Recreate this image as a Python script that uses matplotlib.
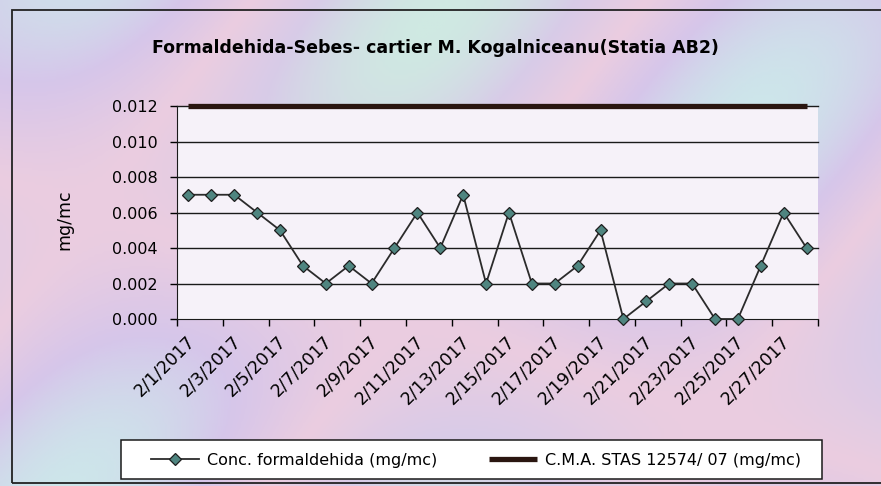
import numpy as np
import matplotlib
matplotlib.use("Agg")
import matplotlib.pyplot as plt
from matplotlib.colors import LinearSegmentedColormap
from matplotlib.patches import Rectangle

plt.rcParams["font.family"] = ["DejaVu Sans"]

# data
dates = ["2/%d/2017" % d for d in range(1, 29)]
conc = [0.007, 0.007, 0.007, 0.006, 0.005, 0.003, 0.002, 0.003, 0.002, 0.004,
        0.006, 0.004, 0.007, 0.002, 0.006, 0.002, 0.002, 0.003, 0.005, 0.000,
        0.001, 0.002, 0.002, 0.000, 0.000, 0.003, 0.006, 0.004]
cma = [0.012] * 28
yticks = [0.000, 0.002, 0.004, 0.006, 0.008, 0.010, 0.012]

title = "Formaldehida-Sebes- cartier M. Kogalniceanu(Statia AB2)"
label_conc = "Conc. formaldehida (mg/mc)"
label_cma = "C.M.A. STAS 12574/ 07 (mg/mc)"

W, H = 881, 486
fig = plt.figure(figsize=(W / 100, H / 100), dpi=100)

# pastel scanned background
bg = fig.add_axes([0, 0, 1, 1], zorder=-10)
bg.set_axis_off()
xx, yy = np.meshgrid(np.linspace(0, 1, 300), np.linspace(0, 1, 170))
t = 0.5 + 0.5 * np.sin(7.0 * xx - 3.0 * yy + 1.0) * np.cos(2.5 * yy + 1.5 * xx)
pastel = LinearSegmentedColormap.from_list(
    "pastel", ["#cfe9e2", "#d8cbe8", "#ebcde0", "#d6c6ea", "#cde6ea"])
bg.imshow(t, cmap=pastel, aspect="auto", extent=[0, 1, 0, 1], origin="lower")
bg.set_xlim(0, 1)
bg.set_ylim(0, 1)
# chart frame and legend box
bg.add_patch(Rectangle((12 / W, 1 - 483 / H), 880 / W, 473 / H,
                       fill=False, ec="#222222", lw=1.3))
bg.add_patch(Rectangle((121 / W, 1 - 479 / H), 701 / W, 39 / H,
                       fc="white", ec="#1a1a1a", lw=1.1))

ax = fig.add_axes([177 / W, 1 - 319 / H, 641 / W, 213 / H])
ax.set_facecolor("#f6f2f9")
x = np.arange(len(dates))

for y in yticks[1:]:
    ax.axhline(y, color="#1a1a1a", lw=1.0, zorder=1, clip_on=False)

ax.plot(x, cma, color="#2a1610", lw=3.8, solid_capstyle="butt", zorder=3,
        label=label_cma, clip_on=False)
ax.plot(x, conc, color="#2b2b2b", lw=1.3, marker="D", ms=6.2,
        mfc="#4f8580", mec="#1e1e1e", mew=0.9, zorder=4, label=label_conc,
        clip_on=False)

ax.set_xlim(-0.5, len(dates) - 0.5)
ax.set_ylim(0, 0.012)
ax.set_yticks(yticks)
ax.set_yticklabels(["%.3f" % v for v in yticks], fontsize=11.5)
ax.tick_params(axis="y", direction="out", length=5, width=1, pad=9)

ax.set_xticks(np.arange(-0.5, len(dates), 2.0))
ax.set_xticklabels([])
ax.tick_params(axis="x", direction="out", length=5, width=1)
for i in range(0, len(dates), 2):
    ax.text(i + 0.15, -0.0011, dates[i], rotation=45, rotation_mode="anchor",
            ha="right", va="center", fontsize=12.5, transform=ax.transData)

for side in ["top", "right"]:
    ax.spines[side].set_visible(False)
ax.spines["left"].set_color("#1a1a1a")
ax.spines["bottom"].set_color("#1a1a1a")

fig.text(435 / W, 1 - 48 / H, title, ha="center", va="center",
         fontsize=12.5, fontweight="bold")
fig.text(64 / W, 1 - 220 / H, "mg/mc", rotation=90, ha="center",
         va="center", fontsize=12.5)

handles, labels = ax.get_legend_handles_labels()
leg = fig.legend(handles[::-1], labels[::-1], ncol=2, loc="center",
                 bbox_to_anchor=(476 / W, 1 - 460 / H),
                 fontsize=11.5, frameon=False, handlelength=3.0,
                 handletextpad=0.5, columnspacing=3.2)

fig.savefig("out.png", dpi=100)
